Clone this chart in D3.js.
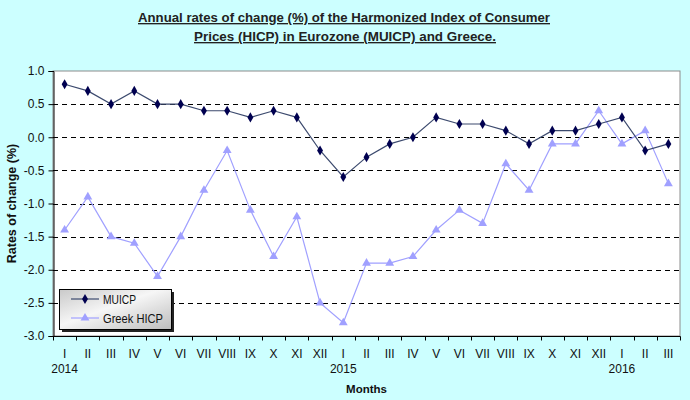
<!DOCTYPE html>
<html>
<head>
<meta charset="utf-8">
<script src="https://cdn.jsdelivr.net/npm/d3@7"></script>
<style>
  html, body { margin: 0; padding: 0; background: #ccffff; }
  svg { display: block; font-family: "Liberation Sans", Arial, sans-serif; }
</style>
</head>
<body>
<svg id="chart" width="690" height="400"></svg>
<script>
const months = ["I","II","III","IV","V","VI","VII","VIII","IX","X","XI","XII",
                "I","II","III","IV","V","VI","VII","VIII","IX","X","XI","XII",
                "I","II","III"];
const years = [{label: "2014", index: 0}, {label: "2015", index: 12}, {label: "2016", index: 24}];
const muicp = [0.8, 0.7, 0.5, 0.7, 0.5, 0.5, 0.4, 0.4, 0.3, 0.4, 0.3, -0.2,
               -0.6, -0.3, -0.1, 0.0, 0.3, 0.2, 0.2, 0.1, -0.1, 0.1, 0.1, 0.2,
               0.3, -0.2, -0.1];
const greek = [-1.4, -0.9, -1.5, -1.6, -2.1, -1.5, -0.8, -0.2, -1.1, -1.8, -1.2, -2.5,
               -2.8, -1.9, -1.9, -1.8, -1.4, -1.1, -1.3, -0.4, -0.8, -0.1, -0.1, 0.4,
               -0.1, 0.1, -0.7];
const yTicks = [1.0, 0.5, 0.0, -0.5, -1.0, -1.5, -2.0, -2.5, -3.0];
const gridValues = [0.5, 0.0, -0.5, -1.0, -1.5, -2.0, -2.5];
const seriesNames = ["MUICP", "Greek HICP"];

const svg = d3.select("#chart");
const L = 53, R = 680, T = 71, B = 336;
const idx = d3.range(months.length);
const x = d3.scaleBand().domain(idx).range([L, R]);
const y = d3.scaleLinear().domain([-3, 1]).range([B, T]);

svg.append("rect").attr("width", 690).attr("height", 400).attr("fill", "#ccffff");

// Title
const title = svg.append("text").attr("text-anchor", "middle")
  .attr("font-size", 13.5).attr("font-weight", "bold").attr("fill", "#222")
  .attr("text-decoration", "underline");
title.append("tspan").attr("x", 344).attr("y", 22)
  .attr("textLength", 412).attr("lengthAdjust", "spacingAndGlyphs")
  .text("Annual rates of change (%) of the Harmonized Index of Consumer");
title.append("tspan").attr("x", 345).attr("y", 41)
  .attr("textLength", 302).attr("lengthAdjust", "spacingAndGlyphs")
  .text("Prices (HICP) in Eurozone (MUICP) and Greece.");

// Plot area
svg.append("rect").attr("x", L).attr("y", T).attr("width", R - L).attr("height", B - T)
  .attr("fill", "#ffffff").attr("stroke", "#8c8c8c").attr("stroke-width", 1);

// Gridlines
svg.append("g").selectAll("line").data(gridValues).join("line")
  .attr("x1", L).attr("x2", R)
  .attr("y1", d => Math.round(y(d)) + 0.5).attr("y2", d => Math.round(y(d)) + 0.5)
  .attr("stroke", "#000").attr("stroke-width", 1.2).attr("stroke-dasharray", "5,4");

// Y axis
const yAxis = d3.axisLeft(y).tickValues(yTicks).tickFormat(d3.format(".1f")).tickSize(5).tickPadding(4);
const gy = svg.append("g").attr("transform", `translate(${L + 0.5},0)`).call(yAxis);
gy.select(".domain").attr("stroke", "#000");
gy.selectAll(".tick line").attr("stroke", "#000");
gy.selectAll(".tick text").attr("font-size", 12).attr("fill", "#111")
  .attr("font-family", "Liberation Sans, Arial, sans-serif")
  .text(d => d.toFixed(1));

// X axis with ticks at category boundaries
const gx = svg.append("g").attr("transform", `translate(0,${B + 0.5})`);
gx.append("line").attr("x1", L).attr("x2", R + 0.5).attr("stroke", "#000");
const bounds = d3.range(months.length + 1).map(i => i === months.length ? R : x(i));
gx.selectAll("line.tk").data(bounds).join("line").attr("class", "tk")
  .attr("x1", d => Math.round(d) + 0.5).attr("x2", d => Math.round(d) + 0.5)
  .attr("y1", 0).attr("y2", 4).attr("stroke", "#000");
gx.selectAll("text.m").data(idx).join("text").attr("class", "m")
  .attr("x", i => x(i) + x.bandwidth() / 2).attr("y", 21)
  .attr("text-anchor", "middle").attr("font-size", 12).attr("fill", "#111")
  .text(i => months[i]);
gx.selectAll("text.yr").data(years).join("text").attr("class", "yr")
  .attr("x", d => x(d.index) + x.bandwidth() / 2).attr("y", 36)
  .attr("text-anchor", "middle").attr("font-size", 12).attr("fill", "#111")
  .text(d => d.label);

// Axis titles
svg.append("text").attr("x", (L + R) / 2).attr("y", 393).attr("text-anchor", "middle")
  .attr("font-size", 11.5).attr("font-weight", "bold").attr("fill", "#111").text("Months");
svg.append("text").attr("transform", `translate(16,${(T + B) / 2}) rotate(-90)`)
  .attr("text-anchor", "middle").attr("font-size", 12.5).attr("font-weight", "bold")
  .attr("fill", "#111").text("Rates of change (%)");

// Lines
const line = d3.line().x((d, i) => x(i) + x.bandwidth() / 2).y(d => y(d));
svg.append("path").datum(greek).attr("d", line).attr("fill", "none")
  .attr("stroke", "#a0a0ff").attr("stroke-width", 1.2);
svg.append("path").datum(muicp).attr("d", line).attr("fill", "none")
  .attr("stroke", "#3c4a6e").attr("stroke-width", 1.2);

const tri = d3.symbol().type(d3.symbolTriangle).size(34);
const dia = d3.symbol().type(d3.symbolDiamond).size(30);
svg.append("g").selectAll("path").data(greek).join("path")
  .attr("transform", (d, i) => `translate(${x(i) + x.bandwidth() / 2},${y(d)})`)
  .attr("d", tri).attr("fill", "#a0a0ff");
svg.append("g").selectAll("path").data(muicp).join("path")
  .attr("transform", (d, i) => `translate(${x(i) + x.bandwidth() / 2},${y(d)})`)
  .attr("d", dia).attr("fill", "#000050");

// Legend
const defs = svg.append("defs");
const grad = defs.append("linearGradient").attr("id", "lg")
  .attr("x1", "0").attr("y1", "0").attr("x2", "1").attr("y2", "1");
grad.append("stop").attr("offset", "0").attr("stop-color", "#c9c9c9");
grad.append("stop").attr("offset", "0.45").attr("stop-color", "#f6f6f6");
grad.append("stop").attr("offset", "1").attr("stop-color", "#bcbcbc");
const lg = svg.append("g");
lg.append("rect").attr("x", 62).attr("y", 292).attr("width", 112).attr("height", 40).attr("fill", "#222");
lg.append("rect").attr("x", 59.5).attr("y", 289.5).attr("width", 112).attr("height", 40)
  .attr("fill", "url(#lg)").attr("stroke", "#000").attr("stroke-width", 1);
const items = [
  {name: seriesNames[0], color: "#3c4a6e", mcolor: "#000050", sym: dia, yy: 299, len: 33},
  {name: seriesNames[1], color: "#a0a0ff", mcolor: "#a0a0ff", sym: tri, yy: 318, len: 60}
];
items.forEach(it => {
  lg.append("line").attr("x1", 71).attr("x2", 99).attr("y1", it.yy).attr("y2", it.yy)
    .attr("stroke", it.color).attr("stroke-width", 1.2);
  lg.append("path").attr("transform", `translate(85,${it.yy})`).attr("d", it.sym).attr("fill", it.mcolor);
  lg.append("text").attr("x", 103).attr("y", it.yy + 4.5).attr("font-size", 12.5)
    .attr("textLength", it.len).attr("lengthAdjust", "spacingAndGlyphs")
    .attr("fill", "#111").text(it.name);
});
</script>
</body>
</html>
